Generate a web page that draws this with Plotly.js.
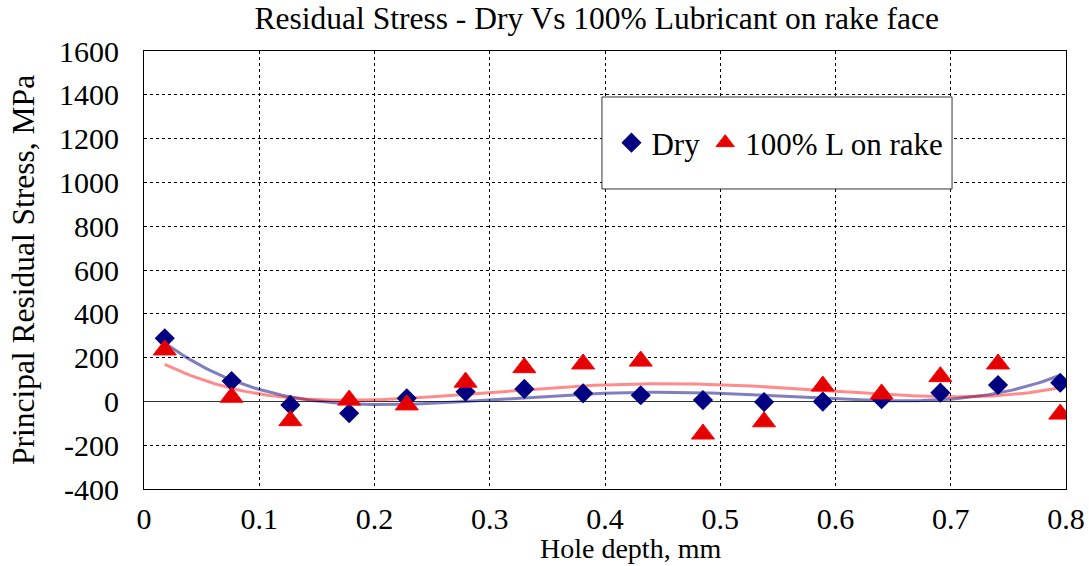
<!DOCTYPE html>
<html>
<head>
<meta charset="utf-8">
<script src="https://cdn.plot.ly/plotly-3.0.1.min.js"></script>
<style>
html,body{margin:0;padding:0;background:#fff;}
#chart{width:1089px;height:566px;}
</style>
</head>
<body>
<div id="chart"></div>
<script>
// ---- data ----
const holeDepth = [0.018, 0.076, 0.127, 0.178, 0.228, 0.279, 0.330, 0.381, 0.431, 0.485, 0.538, 0.589, 0.640, 0.691, 0.741, 0.795];
const dryStress = [288, 93, -16, -54, 14, 44, 57, 37, 28, 6, -3, -1, 10, 40, 75, 85];
const lubStress = [235, 19, -88, 6, -16, 88, 154, 171, 184, -149, -93, 70, 34, 113, 171, -58];
const seriesNames = ["Dry", "100% L on rake"];
const xTicks = [0, 0.1, 0.2, 0.3, 0.4, 0.5, 0.6, 0.7, 0.8];
const yTicks = [-400, -200, 0, 200, 400, 600, 800, 1000, 1200, 1400, 1600];
const trendOrder = 4;

// polynomial least-squares trendline (as the spreadsheet's polynomial trendline)
function polyFit(xs, ys, order) {
  const n = order + 1;
  const A = Array.from({length: n}, () => new Array(n + 1).fill(0));
  for (let k = 0; k < xs.length; k++) {
    const p = [];
    for (let i = 0; i < n; i++) p.push(Math.pow(xs[k], i));
    for (let i = 0; i < n; i++) {
      for (let j = 0; j < n; j++) A[i][j] += p[i] * p[j];
      A[i][n] += p[i] * ys[k];
    }
  }
  for (let c = 0; c < n; c++) {
    let piv = c;
    for (let r = c + 1; r < n; r++) if (Math.abs(A[r][c]) > Math.abs(A[piv][c])) piv = r;
    [A[c], A[piv]] = [A[piv], A[c]];
    for (let r = 0; r < n; r++) {
      if (r === c) continue;
      const f = A[r][c] / A[c][c];
      for (let j = c; j <= n; j++) A[r][j] -= f * A[c][j];
    }
  }
  return A.map((row, i) => row[n] / row[i]);
}
function trend(xs, ys, order) {
  const coef = polyFit(xs, ys, order);
  const x0 = Math.min(...xs), x1 = Math.max(...xs);
  const tx = [], ty = [];
  for (let i = 0; i <= 200; i++) {
    const x = x0 + (x1 - x0) * i / 200;
    let y = 0;
    for (let j = coef.length - 1; j >= 0; j--) y = y * x + coef[j];
    tx.push(x); ty.push(y);
  }
  return {tx, ty};
}
const dryTrend = trend(holeDepth, dryStress, trendOrder);
const lubTrend = trend(holeDepth, lubStress, trendOrder);

const FONT = "Liberation Serif";

const traces = [
  {x: dryTrend.tx, y: dryTrend.ty, mode: "lines", showlegend: false, hoverinfo: "skip",
   line: {color: "rgba(0,0,128,0.5)", width: 3}},
  {x: lubTrend.tx, y: lubTrend.ty, mode: "lines", showlegend: false, hoverinfo: "skip",
   line: {color: "rgba(255,0,0,0.45)", width: 3}},
  {x: holeDepth, y: dryStress, name: seriesNames[0], mode: "markers", type: "scatter",
   marker: {symbol: "diamond", size: 15.5, color: "#000080"}},
  {x: holeDepth, y: lubStress, name: seriesNames[1], mode: "markers", type: "scatter",
   marker: {symbol: "triangle-up", size: 20, color: "rgb(228,0,0)", line: {color: "#ff0000", width: 1}}}
];

const layout = {
  width: 1089, height: 566,
  margin: {l: 144, r: 23, t: 51, b: 77},
  paper_bgcolor: "#fff", plot_bgcolor: "#fff",
  font: {family: FONT, size: 30, color: "#000"},
  title: {text: "Residual Stress - Dry Vs 100% Lubricant on rake face",
          font: {family: FONT, size: 31.5, color: "#000"},
          xref: "container", x: 0.548, xanchor: "center",
          yref: "container", y: 0.968, yanchor: "middle"},
  xaxis: {
    range: [0, 0.8], tickvals: xTicks, ticktext: xTicks.map(String),
    showgrid: true, gridcolor: "#000", griddash: "dot", gridwidth: 1,
    zeroline: false, showline: true, linecolor: "#000", linewidth: 1, mirror: true,
    ticks: "", ticklabelstandoff: 3,
    tickfont: {family: FONT, size: 30, color: "#000"},
    automargin: false
  },
  yaxis: {
    range: [-400, 1600], tickvals: yTicks, ticktext: yTicks.map(String),
    showgrid: true, gridcolor: "#000", griddash: "dot", gridwidth: 1,
    zeroline: true, zerolinecolor: "#333", zerolinewidth: 1.5,
    showline: true, linecolor: "#000", linewidth: 1, mirror: true,
    ticks: "", ticklabelstandoff: 18,
    tickfont: {family: FONT, size: 30, color: "#000"},
    title: {text: "Principal Residual Stress, MPa", font: {family: FONT, size: 31.5, color: "#000"}, standoff: 14},
    automargin: false
  },
  legend: {
    orientation: "h", x: 0.507, xanchor: "left", y: 0.79, yanchor: "middle",
    bgcolor: "rgba(0,0,0,0)", borderwidth: 0,
    font: {family: FONT, size: 31, color: "#000"}
  },
  shapes: [{type: "rect", xref: "paper", yref: "paper",
            x0: 0.4967, x1: 0.8764, y0: 0.685, y1: 0.895,
            line: {color: "#333", width: 1}, fillcolor: "#fff", layer: "above"}],
  annotations: [{text: "Hole depth, mm", xref: "paper", yref: "paper",
                 x: 0.528, y: -0.1758, xanchor: "center", yanchor: "bottom",
                 showarrow: false, font: {family: FONT, size: 28, color: "#000"}}]
};

Plotly.newPlot("chart", traces, layout, {displayModeBar: false, staticPlot: true});
</script>
</body>
</html>
